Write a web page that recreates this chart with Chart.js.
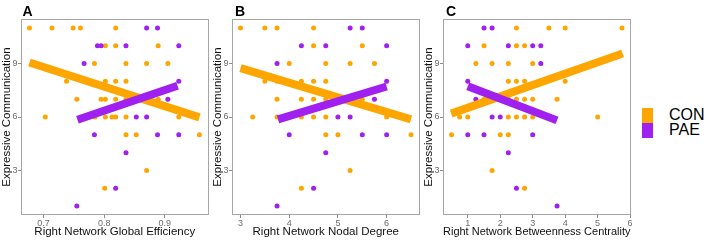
<!DOCTYPE html>
<html><head><meta charset="utf-8">
<script src="https://cdn.jsdelivr.net/npm/chart.js@4.4.1/dist/chart.umd.min.js"></script>
<style>
html,body{margin:0;padding:0;background:#fff;width:706px;height:240px;overflow:hidden;font-family:"Liberation Sans",Arial,sans-serif;}
canvas{position:absolute;top:0;}
.letter{position:absolute;top:4px;font-weight:bold;font-size:14px;line-height:14px;color:#000;}
.lg-box{position:absolute;width:10.4px;height:15.2px;}
.lg-text{position:absolute;font-size:16px;line-height:16px;color:#000;}
</style>
</head><body>
<canvas id="cA" width="211" height="240" style="left:0px"></canvas>
<canvas id="cB" width="211" height="240" style="left:211px"></canvas>
<canvas id="cC" width="211" height="240" style="left:422px"></canvas>
<div id="overlay"></div>
<script>
// ---- labels ----
const groups = ['CON', 'PAE'];
const groupColors = ['#FFA500', '#A020F0'];
const panelLetters = ['A', 'B', 'C'];
const yTitle = 'Expressive Communication';
const xTitles = ['Right Network Global Efficiency', 'Right Network Nodal Degree', 'Right Network Betweenness Centrality'];

// ---- ticks & ranges ----
const yTicks = [3, 6, 9];
const yRange = [0.5, 11.5];
const xTicksA = [0.7, 0.8, 0.9];
const xTicksB = [3, 4, 5, 6];
const xTicksC = [1, 2, 3, 4, 5, 6];
const xRangeA = [0.663, 0.972];
const xRangeB = [2.825, 6.675];
const xRangeC = [0.2375, 6.0125];

// ---- Panel A: Global Efficiency ----
const conA = [
  [0.677,11],[0.714,11],[0.749,11],[0.761,11],[0.819,11],
  [0.802,10],[0.819,10],[0.889,10],
  [0.784,9],[0.836,9],[0.870,9],[0.905,9],
  [0.738,8],[0.802,8],[0.819,8],[0.836,8],
  [0.755,7],[0.795,7],[0.802,7],[0.819,7],[0.836,7],[0.870,7],[0.889,7],
  [0.703,6],[0.785,6],[0.802,6],[0.813,6],[0.819,6],[0.836,6],[0.923,6],
  [0.836,5],[0.853,5],[0.957,5],
  [0.870,3],
  [0.801,2]
];
const paeA = [
  [0.870,11],[0.888,11],
  [0.789,10],[0.795,10],[0.836,10],[0.923,10],
  [0.767,9],
  [0.923,8],
  [0.905,7],
  [0.853,6],[0.870,6],
  [0.784,5],[0.888,5],[0.923,5],
  [0.836,4],
  [0.819,2],
  [0.755,1]
];
const fitConA = [[0.677,9.06],[0.957,5.98]];
const fitPaeA = [[0.756,5.85],[0.921,7.75]];

// ---- Panel B: Nodal Degree ----
const conB = [
  [3,11],[3.5,11],[3.75,11],[4.5,11],
  [4.5,10],[5.5,10],
  [4,9],[4.75,9],[5.25,9],[5.75,9],
  [3.5,8],[3.75,8],[4.25,8],[4.5,8],[4.75,8],
  [3.75,7],[4.25,7],[4.5,7],[4.75,7],[5.5,7],
  [3.25,6],[3.75,6],[4.25,6],[4.5,6],[4.75,6],[6,6],
  [4.75,5],[5,5],[6.5,5],
  [5.25,3],
  [4.25,2]
];
const paeB = [
  [5.25,11],[5.5,11],
  [4.25,10],[4.75,10],[6,10],
  [3.75,9],
  [6,8],
  [5.75,7],
  [5,6],[5.25,6],
  [4,5],[5.5,5],[6,5],
  [4.75,4],
  [4.5,2],
  [3.75,1]
];
const fitConB = [[3,8.74],[6.5,5.87]];
const fitPaeB = [[3.77,5.87],[6,7.71]];

// ---- Panel C: Betweenness Centrality ----
const conC = [
  [2.5,11],[3.5,11],[4,11],[5.75,11],
  [1.5,10],[2.5,10],[2.75,10],
  [1.25,9],[1.75,9],[2.25,9],[3,9],
  [2.25,8],[2.5,8],[2.75,8],[4,8],
  [1.5,7],[2.25,7],[2.5,7],[2.75,7],[3,7],[3.75,7],
  [0.75,6],[1,6],[2.25,6],[2.5,6],[2.75,6],[3,6],[5,6],
  [0.5,5],[2,5],[2.25,5],
  [1.75,3],
  [2.75,2]
];
const paeC = [
  [1.5,11],[1.75,11],
  [1,10],[2.25,10],[3,10],[3.25,10],
  [3.25,9],
  [1,8],
  [1.25,7],
  [1.75,6],[2,6],
  [1,5],[1.5,5],[3,5],
  [2.25,4],
  [2.5,2],
  [3.75,1]
];
const fitConC = [[0.49,6.19],[5.77,9.56]];
const fitPaeC = [[1.0,7.72],[3.75,5.81]];

// ---- drawing ----
const FONT = '"Liberation Sans", Arial, sans-serif';
const toXY = arr => arr.map(p => ({x: p[0], y: p[1]}));

const boxPlugin = {
  id: 'panelBox',
  afterDraw(chart) {
    const {ctx, chartArea: a} = chart;
    ctx.save();
    ctx.strokeStyle = '#A6A6A6';
    ctx.lineWidth = 1;
    ctx.strokeRect(Math.round(a.left) + 0.5, Math.round(a.top) + 0.5,
                   Math.round(a.right - a.left) - 1, Math.round(a.bottom - a.top) - 1);
    ctx.restore();
  }
};

function makePanel(id, con, pae, fitCon, fitPae, xTicks, xRange, xTitle) {
  const pts = [con, pae];
  const fits = [fitCon, fitPae];
  const datasets = [];
  // regression lines (purple on top, then orange)
  [1, 0].forEach((g, k) => datasets.push({
    label: groups[g] + ' fit', data: toXY(fits[g]), showLine: true,
    borderColor: groupColors[g], backgroundColor: groupColors[g],
    borderWidth: 8, borderCapStyle: 'butt', pointRadius: 0, order: k
  }));
  [1, 0].forEach((g, k) => datasets.push({
    label: groups[g], data: toXY(pts[g]),
    backgroundColor: groupColors[g], borderWidth: 0,
    pointRadius: 2.5, pointHoverRadius: 2.5, order: 2 + k
  }));
  new Chart(document.getElementById(id), {
    type: 'scatter',
    data: {datasets},
    options: {
      responsive: false, animation: false, devicePixelRatio: 1,
      layout: {padding: {left: 0, right: 2, top: 19, bottom: 0}},
      plugins: {legend: {display: false}, tooltip: {enabled: false}},
      scales: {
        x: {
          type: 'linear', min: xRange[0], max: xRange[1],
          afterBuildTicks: s => { s.ticks = xTicks.map(v => ({value: v})); },
          afterFit: s => { s.height = 25; },
          grid: {display: true, drawOnChartArea: false, drawTicks: true, tickLength: 3, tickColor: '#8c8c8c'},
          border: {display: false},
          ticks: {padding: 0, color: '#6b6b6b', font: {family: FONT, size: 9}, maxRotation: 0, autoSkip: false},
          title: {display: true, text: xTitle, color: '#111', font: {family: FONT, size: 11.5}, padding: {top: 0, bottom: 1}}
        },
        y: {
          type: 'linear', min: yRange[0], max: yRange[1],
          afterBuildTicks: s => { s.ticks = yTicks.map(v => ({value: v})); },
          afterFit: s => { s.width = 21; },
          grid: {display: true, drawOnChartArea: false, drawTicks: true, tickLength: 3, tickColor: '#8c8c8c'},
          border: {display: false},
          ticks: {padding: 0.5, color: '#6b6b6b', font: {family: FONT, size: 9}},
          title: {display: true, text: yTitle, color: '#111', font: {family: FONT, size: 11.5}, padding: {top: 0, bottom: 0}}
        }
      }
    },
    plugins: [boxPlugin]
  });
}

makePanel('cA', conA, paeA, fitConA, fitPaeA, xTicksA, xRangeA, xTitles[0]);
makePanel('cB', conB, paeB, fitConB, fitPaeB, xTicksB, xRangeB, xTitles[1]);
makePanel('cC', conC, paeC, fitConC, fitPaeC, xTicksC, xRangeC, xTitles[2]);

// panel letters and legend as text
const overlay = document.getElementById('overlay');
const letterLeft = [22.5, 235, 446];
panelLetters.forEach((t, i) => {
  const d = document.createElement('div');
  d.className = 'letter'; d.textContent = t; d.style.left = letterLeft[i] + 'px';
  overlay.appendChild(d);
});
groups.forEach((g, i) => {
  const top = 107.7 + i * 15.2;
  const b = document.createElement('div');
  b.className = 'lg-box'; b.style.left = '642.3px'; b.style.top = top + 'px';
  b.style.background = groupColors[i];
  overlay.appendChild(b);
  const t = document.createElement('div');
  t.className = 'lg-text'; t.textContent = g; t.style.left = '669px'; t.style.top = (top - 0.5) + 'px';
  overlay.appendChild(t);
});
</script>
</body></html>
